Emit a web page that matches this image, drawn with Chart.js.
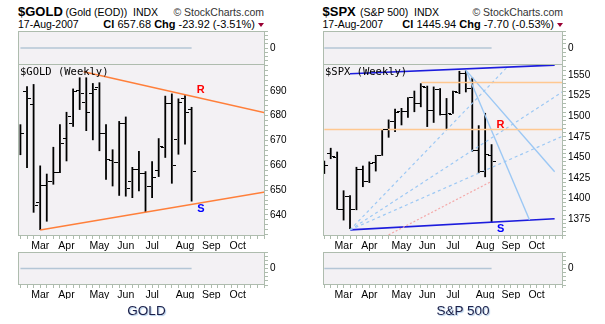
<!DOCTYPE html>
<html>
<head>
<meta charset="utf-8">
<title>GOLD / S&amp;P 500 weekly</title>
<script src="https://cdn.jsdelivr.net/npm/chart.js@4.4.1/dist/chart.umd.min.js"></script>
<style>
  html, body { margin: 0; padding: 0; background: #fff; }
  body { width: 605px; height: 324px; position: relative; overflow: hidden; font-family: "Liberation Sans", Arial, sans-serif; color: #000; }
  .t { position: absolute; white-space: nowrap; line-height: 1; }
  .sym { font-size: 13px; font-weight: bold; top: 5px; }
  .nm { font-size: 10.5px; top: 7px; }
  .cr { font-size: 10.5px; top: 7px; color: #333; text-align: right; }
  .dt { font-size: 10.5px; top: 19px; }
  .cl { font-size: 11px; top: 18.5px; text-align: right; }
  .tri { display: inline-block; width: 0; height: 0; border-left: 3.5px solid transparent; border-right: 3.5px solid transparent; border-top: 4.5px solid #990033; margin-left: 3px; vertical-align: 1px; }
  .cap { font-size: 13.5px; top: 304px; color: #1c1f48; text-shadow: 1px 1px 1px #a9c8e8; transform: translateX(-50%); }
  canvas { position: absolute; }
</style>
</head>
<body>

<div class="t sym" style="left:18px">$GOLD</div>
<div class="t nm" style="left:65.5px">(Gold (EOD))</div>
<div class="t nm" style="left:133px">INDX</div>
<div class="t cr" style="right:341px">&copy; StockCharts.com</div>
<div class="t dt" style="left:18px">17-Aug-2007</div>
<div class="t cl" style="right:341px"><b>Cl</b> 657.68 <b>Chg</b> -23.92 (-3.51%)<span class="tri"></span></div>

<div class="t sym" style="left:322.5px">$SPX</div>
<div class="t nm" style="left:360px">(S&amp;P 500)</div>
<div class="t nm" style="left:414px">INDX</div>
<div class="t cr" style="right:42px">&copy; StockCharts.com</div>
<div class="t dt" style="left:322.5px">17-Aug-2007</div>
<div class="t cl" style="right:42px"><b>Cl</b> 1445.94 <b>Chg</b> -7.70 (-0.53%)<span class="tri"></span></div>

<canvas id="goldTop" width="300" height="34" style="left:0;top:31px"></canvas>
<canvas id="goldMain" width="300" height="190" style="left:0;top:64px"></canvas>
<canvas id="goldBot" width="300" height="47" style="left:0;top:252px"></canvas>
<canvas id="spxTop" width="301" height="34" style="left:304px;top:31px"></canvas>
<canvas id="spxMain" width="301" height="190" style="left:304px;top:64px"></canvas>
<canvas id="spxBot" width="301" height="47" style="left:304px;top:252px"></canvas>

<div class="t cap" style="left:146.5px">GOLD</div>
<div class="t cap" style="left:463px">S&amp;P 500</div>

<script>
// weekly bars, week starting (2007)
const weeks = ['12-Feb', '19-Feb', '26-Feb', '05-Mar', '12-Mar', '19-Mar', '26-Mar', '02-Apr', '09-Apr',
  '16-Apr', '23-Apr', '30-Apr', '07-May', '14-May', '21-May', '29-May', '04-Jun', '11-Jun', '18-Jun',
  '25-Jun', '02-Jul', '09-Jul', '16-Jul', '23-Jul', '30-Jul', '06-Aug', '13-Aug'];
const monthPos = [3, 7, 12, 16, 20, 25, 29, 33];
const monthNames = ['Mar', 'Apr', 'May', 'Jun', 'Jul', 'Aug', 'Sep', 'Oct'];

// $GOLD weekly OHLC
const goldOpen = [673.5, 690.0, 684.6, 645.4, 651.9, 653.8, 657.2, 671.1, 677.2, 690.4, 685.3, 689.3, 691.4, 673.1,
  662.3, 661.4, 677.2, 653.5, 658.6, 656.9, 651.8, 658.0, 667.4, 685.0, 670.4, 687.3, 682.8];
const goldHigh = [676.5, 691.8, 692.7, 659.9, 656.6, 667.4, 676.5, 681.5, 690.9, 695.4, 695.4, 693.1, 693.4, 676.5,
  666.4, 677.8, 679.6, 659.3, 665.7, 657.6, 661.6, 670.9, 688.0, 688.9, 686.9, 688.2, 683.5];
const goldLow = [664.1, 658.9, 640.9, 633.9, 637.3, 652.2, 656.9, 661.6, 675.5, 682.3, 673.8, 670.1, 665.7, 654.2,
  651.5, 647.7, 647.4, 646.8, 649.5, 641.1, 646.8, 655.3, 663.0, 652.6, 664.3, 668.4, 645.4];
const goldClose = [673.1, 687.3, 643.8, 652.0, 653.8, 657.2, 669.1, 679.9, 690.0, 689.0, 681.6, 690.7, 673.1, 662.6,
  661.4, 677.2, 650.8, 658.6, 656.9, 651.8, 655.3, 667.7, 685.0, 660.3, 685.3, 681.6, 657.7];
const goldTicks = [640, 650, 660, 670, 680, 690];
const goldResist = [[9.6, 697.7], [37.15, 681.2]];
const goldSupport = [[3, 633.9], [37.15, 649.2]];
const goldNotes = [['R', 27.4, 690.2, '#ff0000'], ['S', 27.4, 642.3, '#0000ff']];

// $SPX weekly OHLC
const spxOpen = [1437, 1455, 1451, 1387, 1403, 1387, 1436, 1421, 1444, 1453, 1484, 1494, 1506, 1506,
  1523, 1516, 1536, 1508, 1533, 1503, 1503, 1530, 1552, 1534, 1459, 1433, 1453];
const spxHigh = [1446, 1461.6, 1457, 1410, 1404, 1438.5, 1440, 1445, 1453, 1484.5, 1496, 1509, 1510, 1523,
  1531, 1540, 1537, 1536, 1534, 1522, 1531, 1555, 1556, 1547, 1489, 1504, 1466];
const spxLow = [1430, 1448, 1386.5, 1373.5, 1363, 1386, 1414, 1419, 1433, 1452, 1474, 1481, 1489, 1498,
  1505, 1511, 1487, 1492, 1501, 1484.5, 1503, 1527, 1529, 1457, 1431, 1426, 1370.5];
const spxClose = [1441, 1451.2, 1387.2, 1402.8, 1387, 1436.1, 1420.9, 1443.8, 1452.9, 1484.4, 1494.1, 1505.6,
  1505.9, 1522.8, 1515.7, 1536.3, 1507.7, 1532.9, 1502.6, 1503.4, 1530.4, 1552.5, 1534.1, 1459, 1433.1, 1453.6, 1445.9];
const spxTicks = [1375, 1400, 1425, 1450, 1475, 1500, 1525, 1550];
const spxChanTop = [[4, 1551.5], [35.8, 1562]];
const spxChanBot = [[4, 1362], [35.8, 1375.5]];
const spxResist = [[0, 1484], [37.1, 1484]];
const spxPeak = [[15.1, 1541], [37.1, 1541]];
const spxFanA = [[4, 1362], [28.6, 1561]];
const spxFanB = [[4, 1362], [37.1, 1530]];
const spxFanC = [[4, 1362], [37.1, 1476]];
const spxDropE = [[22, 1556], [31.9, 1374]];
const spxDropF = [[22, 1556], [35.8, 1432.5]];
const spxDotted = [[10, 1356], [26, 1421]];
const spxNotes = [['R', 27.4, 1489.3, '#ff0000'], ['S', 27.4, 1362.8, '#0000ff']];

// empty indicator panels (flat at zero)
const indicatorZero = [0, 0, 0, 0, 0, 0, 0, 0, 0, 0, 0, 0, 0, 0, 0, 0, 0, 0, 0, 0, 0, 0, 0, 0, 0, 0, 0];

const FRAME = '#aebcae';
const PANEL = '#f3f1f4';

const panelFrame = {
  id: 'panelFrame',
  beforeDraw(chart) {
    const a = chart.chartArea, ctx = chart.ctx;
    ctx.save();
    ctx.fillStyle = PANEL;
    ctx.fillRect(a.left, a.top, a.width, a.height);
    ctx.restore();
  },
  afterDraw(chart) {
    const a = chart.chartArea, ctx = chart.ctx;
    ctx.save();
    ctx.strokeStyle = FRAME;
    ctx.lineWidth = 1;
    ctx.strokeRect(a.left + 0.5, a.top + 0.5, a.width - 1, a.height - 1);
    ctx.restore();
  }
};

// open / close ticks of the OHLC bars
const ohlcTicks = {
  id: 'ohlcTicks',
  afterDatasetsDraw(chart, args, opts) {
    if (!opts.open) return;
    const { ctx, chartArea: a, scales: { x, y } } = chart;
    ctx.save();
    ctx.beginPath();
    ctx.rect(a.left + 1, a.top, a.width - 2, a.height);
    ctx.clip();
    ctx.fillStyle = '#000';
    opts.open.forEach((o, i) => {
      const px = Math.round(x.getPixelForValue(i));
      ctx.fillRect(px - 4, Math.round(y.getPixelForValue(o)), 3, 1);
      ctx.fillRect(px + 1, Math.round(y.getPixelForValue(opts.close[i])), 3, 1);
    });
    ctx.restore();
  }
};

// panel title and R / S markers
const marks = {
  id: 'marks',
  afterDatasetsDraw(chart, args, opts) {
    if (!opts.title) return;
    const { ctx, chartArea, scales: { x, y } } = chart;
    ctx.save();
    ctx.textBaseline = 'middle';
    ctx.font = '10.5px "DejaVu Sans Mono"';
    ctx.fillStyle = '#000';
    ctx.fillText(opts.title, chartArea.left + 2, chartArea.top + 8.5);
    ctx.font = 'bold 11px "Liberation Sans"';
    ctx.textAlign = 'center';
    opts.notes.forEach(([txt, vx, vy, col]) => {
      ctx.fillStyle = col;
      ctx.fillText(txt, x.getPixelForValue(vx), y.getPixelForValue(vy));
    });
    ctx.restore();
  }
};

function xAxis(min, max, labels, h) {
  return {
    type: 'linear', min: min, max: max, offset: false, display: h > 0,
    afterBuildTicks: s => {
      const t = [];
      for (let v = Math.ceil(min); v <= max; v++) t.push({ value: v });
      s.ticks = t;
    },
    ticks: {
      autoSkip: false, maxRotation: 0, minRotation: 0, padding: 1, color: '#000',
      font: { family: 'Liberation Sans', size: 10.5 },
      callback: v => (labels && monthPos.includes(v)) ? monthNames[monthPos.indexOf(v)] : ''
    },
    grid: { drawOnChartArea: false, drawTicks: true, tickLength: 3, color: FRAME, offset: false },
    border: { display: false },
    afterFit: s => { s.height = h; s.paddingLeft = 0; s.paddingRight = 0; }
  };
}

function yAxis(min, max, step, major, w) {
  return {
    type: 'linear', position: 'right', min: min, max: max,
    afterBuildTicks: s => {
      const t = [];
      for (let v = Math.ceil(min / step) * step; v <= max; v += step) t.push({ value: +v.toFixed(3) });
      s.ticks = t;
    },
    ticks: {
      autoSkip: false, padding: 2, color: '#000',
      font: { family: 'Liberation Sans', size: 10 },
      callback: v => major.includes(v) ? String(v) : ''
    },
    grid: { drawOnChartArea: false, drawTicks: true, tickLength: 3, color: FRAME },
    border: { display: false },
    afterFit: s => { s.width = w; s.paddingTop = 0; s.paddingBottom = 0; }
  };
}

function lineSet(pts, color, width, dash) {
  return {
    type: 'line', data: pts.map(([x, y]) => ({ x: x, y: y })),
    borderColor: color, borderWidth: width, borderDash: dash || [],
    pointRadius: 0, tension: 0, order: 1
  };
}

const baseOpts = {
  responsive: false, animation: false, events: [],
  plugins: { legend: { display: false }, tooltip: { enabled: false } }
};

function drawMain(id, p) {
  const bars = p.high.map((h, i) => ({ x: i, y: [p.low[i], h] }));
  new Chart(document.getElementById(id), {
    type: 'bar',
    data: {
      datasets: [
        { data: bars, backgroundColor: '#000', barThickness: 1.8, inflateAmount: 0, order: 2 },
        ...p.lines
      ]
    },
    options: {
      ...baseOpts,
      layout: { padding: { left: p.padLeft, top: 0, right: 0, bottom: 0 }, autoPadding: false },
      plugins: {
        ...baseOpts.plugins,
        ohlcTicks: { open: p.open, close: p.close },
        marks: { title: p.title, notes: p.notes }
      },
      scales: {
        x: xAxis(p.xMin, p.xMax, true, 18),
        y: yAxis(p.yMin, p.yMax, p.minor, p.ticks, p.axisW)
      }
    },
    plugins: [panelFrame, ohlcTicks, marks]
  });
}

function drawIndicator(id, p, withAxis) {
  new Chart(document.getElementById(id), {
    type: 'line',
    data: {
      datasets: [{
        data: indicatorZero.map((v, i) => ({ x: i, y: v })),
        borderColor: '#b4c6d6', borderWidth: 1.5, pointRadius: 0
      }]
    },
    options: {
      ...baseOpts,
      layout: { padding: { left: p.padLeft, top: 0, right: 0, bottom: 0 }, autoPadding: false },
      scales: {
        x: xAxis(p.xMin, p.xMax, withAxis, withAxis ? 14 : 0),
        y: yAxis(-1, 1, 0.25, [0], p.axisW)
      }
    },
    plugins: [panelFrame]
  });
}

const gold = {
  open: goldOpen, high: goldHigh, low: goldLow, close: goldClose,
  xMin: -0.37, xMax: 37.15, yMin: 631.5, yMax: 700.8, minor: 2, ticks: goldTicks,
  padLeft: 18, axisW: 35, title: '$GOLD (Weekly)', notes: goldNotes,
  lines: [
    lineSet(goldResist, '#ff7f3a', 1.5),
    lineSet(goldSupport, '#ff7f3a', 1.5)
  ]
};

const spx = {
  open: spxOpen, high: spxHigh, low: spxLow, close: spxClose,
  xMin: -0.2, xMax: 37.1, yMin: 1354.6, yMax: 1563.4, minor: 5, ticks: spxTicks,
  padLeft: 19, axisW: 42, title: '$SPX (Weekly)', notes: spxNotes,
  lines: [
    lineSet(spxResist, '#ffc890', 1.5),
    lineSet(spxPeak, '#ffc890', 1.5),
    lineSet(spxDotted, '#f4a8a8', 1.2, [2, 2]),
    lineSet(spxFanA, '#9cc8f4', 1.2, [3, 3]),
    lineSet(spxFanB, '#9cc8f4', 1.2, [3, 3]),
    lineSet(spxFanC, '#9cc8f4', 1.2, [3, 3]),
    lineSet(spxDropE, '#9cc8f4', 1.4),
    lineSet(spxDropF, '#9cc8f4', 1.4),
    lineSet(spxChanTop, '#1c1cdd', 1.6),
    lineSet(spxChanBot, '#1c1cdd', 1.6)
  ]
};

drawIndicator('goldTop', gold, false);
drawMain('goldMain', gold);
drawIndicator('goldBot', gold, true);
drawIndicator('spxTop', spx, false);
drawMain('spxMain', spx);
drawIndicator('spxBot', spx, true);
</script>
</body>
</html>
